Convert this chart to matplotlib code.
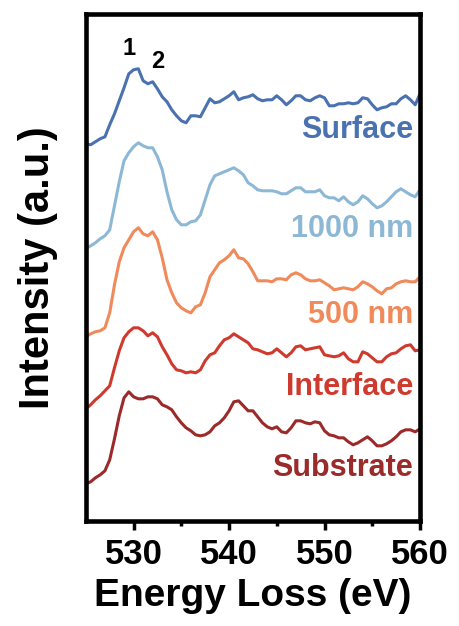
import numpy as np
import matplotlib.pyplot as plt

plt.rcParams['font.family'] = ['Liberation Sans', 'DejaVu Sans']
plt.rcParams['font.weight'] = 'bold'

# O K-edge EELS spectra, sampled every 0.5 eV, stacked with offsets (a.u.)
energy = np.linspace(525, 560, 71)

surface = [3.77, 3.76, 3.79, 3.82, 3.84, 3.96, 4.07, 4.20, 4.33, 4.47,
           4.51, 4.52, 4.40, 4.37, 4.39, 4.32, 4.24, 4.19, 4.11, 4.05,
           4.00, 3.98, 4.05, 4.05, 4.04, 4.13, 4.22, 4.18, 4.19, 4.22,
           4.25, 4.29, 4.21, 4.23, 4.24, 4.26, 4.22, 4.20, 4.21, 4.21,
           4.25, 4.21, 4.16, 4.20, 4.25, 4.25, 4.21, 4.20, 4.23, 4.25,
           4.23, 4.15, 4.15, 4.17, 4.17, 4.18, 4.17, 4.18, 4.23, 4.22,
           4.16, 4.11, 4.13, 4.14, 4.17, 4.17, 4.22, 4.25, 4.21, 4.16,
           4.27]
nm1000 = [2.72, 2.75, 2.78, 2.82, 2.85, 2.91, 3.15, 3.39, 3.60, 3.68,
          3.74, 3.78, 3.75, 3.73, 3.73, 3.64, 3.51, 3.29, 3.11, 3.01,
          2.96, 2.96, 2.99, 3.00, 3.06, 3.21, 3.36, 3.45, 3.47, 3.49,
          3.51, 3.53, 3.50, 3.46, 3.38, 3.35, 3.31, 3.30, 3.30, 3.30,
          3.29, 3.27, 3.27, 3.30, 3.33, 3.33, 3.29, 3.29, 3.29, 3.31,
          3.25, 3.23, 3.23, 3.20, 3.24, 3.19, 3.16, 3.19, 3.25, 3.22,
          3.17, 3.13, 3.15, 3.19, 3.24, 3.29, 3.32, 3.29, 3.26, 3.24,
          3.31]
nm500 = [1.84, 1.87, 1.89, 1.90, 1.93, 2.08, 2.36, 2.59, 2.73, 2.81,
         2.89, 2.93, 2.87, 2.85, 2.89, 2.81, 2.63, 2.41, 2.28, 2.18,
         2.13, 2.10, 2.08, 2.14, 2.16, 2.28, 2.44, 2.51, 2.58, 2.61,
         2.65, 2.71, 2.63, 2.62, 2.57, 2.49, 2.40, 2.40, 2.40, 2.39,
         2.42, 2.42, 2.41, 2.46, 2.48, 2.46, 2.42, 2.40, 2.40, 2.41,
         2.38, 2.35, 2.31, 2.32, 2.33, 2.32, 2.31, 2.34, 2.39, 2.37,
         2.34, 2.30, 2.27, 2.32, 2.33, 2.37, 2.39, 2.40, 2.39, 2.39,
         2.44]
interface = [1.12, 1.16, 1.21, 1.25, 1.30, 1.35, 1.53, 1.70, 1.83, 1.89,
             1.93, 1.93, 1.90, 1.85, 1.88, 1.84, 1.74, 1.66, 1.57, 1.51,
             1.50, 1.48, 1.49, 1.48, 1.51, 1.60, 1.66, 1.68, 1.75, 1.81,
             1.83, 1.87, 1.84, 1.81, 1.78, 1.72, 1.71, 1.69, 1.67, 1.68,
             1.72, 1.68, 1.64, 1.68, 1.74, 1.75, 1.71, 1.72, 1.73, 1.74,
             1.66, 1.65, 1.64, 1.65, 1.68, 1.62, 1.59, 1.59, 1.69, 1.67,
             1.63, 1.59, 1.59, 1.64, 1.67, 1.68, 1.72, 1.75, 1.76, 1.70,
             1.71]
substrate = [0.37, 0.39, 0.43, 0.46, 0.50, 0.61, 0.82, 1.05, 1.23, 1.29,
             1.24, 1.22, 1.22, 1.24, 1.24, 1.22, 1.16, 1.14, 1.11, 1.04,
             0.98, 0.93, 0.90, 0.86, 0.85, 0.86, 0.89, 0.95, 0.98, 1.03,
             1.10, 1.19, 1.20, 1.15, 1.10, 1.10, 1.04, 0.98, 0.94, 0.92,
             0.94, 0.89, 0.88, 0.93, 1.00, 1.00, 0.98, 0.97, 0.99, 0.98,
             0.90, 0.86, 0.85, 0.83, 0.83, 0.79, 0.76, 0.78, 0.81, 0.84,
             0.80, 0.75, 0.75, 0.77, 0.80, 0.84, 0.89, 0.91, 0.91, 0.89,
             0.92]

labels = ['Surface', '1000 nm', '500 nm', 'Interface', 'Substrate']
label_y = [3.83, 2.84, 1.98, 1.26, 0.45]
colors = ['#4a72b0', '#8cb8d6', '#f08a5a', '#cf3a2e', '#9b2a2a']
spectra = [surface, nm1000, nm500, interface, substrate]

# peak markers on the surface spectrum
peak_names = ['1', '2']
peak_x = [529.55, 532.5]
peak_y = [4.66, 4.53]

fig = plt.figure(figsize=(4.59, 6.26), dpi=100)
ax = fig.add_axes([0.187, 0.168, 0.728, 0.81])

for spec, lab, ly, col in zip(spectra, labels, label_y, colors):
    ax.plot(energy, spec, color=col, lw=2.2)
    ax.text(559.3, ly, lab, color=col, fontsize=22, fontweight='bold',
            ha='right', va='baseline')

for name, px, py in zip(peak_names, peak_x, peak_y):
    ax.text(px, py, name, color='black', fontsize=17, fontweight='bold',
            ha='center', va='baseline')

ax.set_xlim(525, 560)
ax.set_ylim(0, 5.07)
ax.set_xticks([530, 540, 550, 560])
ax.set_xticks([535, 545, 555], minor=True)
ax.set_yticks([])
ax.tick_params(axis='x', which='major', direction='out', length=6.5, width=2.5,
               labelsize=25, pad=6)
ax.tick_params(axis='x', which='minor', direction='out', length=3.5, width=2.5)
for s in ax.spines.values():
    s.set_linewidth(3.3)

ax.set_xlabel('Energy Loss (eV)', fontsize=28, fontweight='bold', labelpad=5)
ax.set_ylabel('Intensity (a.u.)', fontsize=30, fontweight='bold', labelpad=20)

plt.savefig('out.png', dpi=100)
plt.close()
